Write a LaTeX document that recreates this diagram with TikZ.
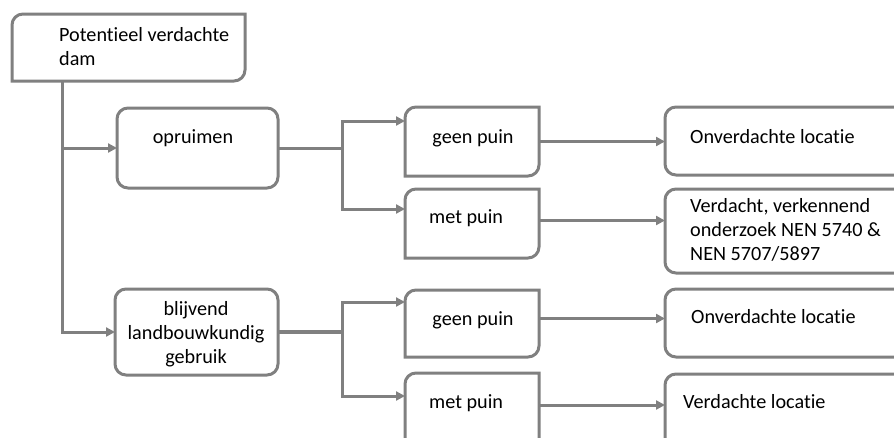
\documentclass[tikz,border=0pt]{standalone}
\usepackage{fontspec}
\setmainfont[Ligatures=NoCommon]{Carlito}
\usetikzlibrary{arrows.meta,calc}
\definecolor{lg}{HTML}{808080}
\tikzset{
  outline/.style={draw=lg, line width=3pt},
  ln/.style={draw=lg, line width=3pt},
  arr/.style={draw=lg, line width=3pt, -{Triangle[length=9pt,width=9pt]}},
  txt/.style={font=\fontsize{20.2}{23.7}\selectfont, inner sep=0pt, text=black},
  frame/.style={inner sep=0pt, outer sep=0pt, anchor=north west, shape=rectangle},
  roundbox/.style={frame, outline, rounded corners=11pt},
}
\newcommand\rdbox[1]{\draw[outline] (#1.south west) -- ($(#1.north west)+(0,-11)$) arc[start angle=180,end angle=90,radius=11] -- (#1.north east) -- ($(#1.south east)+(0,11)$) arc[start angle=0,end angle=-90,radius=11] -- cycle;}
\begin{document}
\begin{tikzpicture}[x=1pt,y=1pt]
\useasboundingbox (0,0) rectangle (894,-437);
\clip (0,0) rectangle (894,-437);
% boxes
\node[frame, minimum width=233pt, minimum height=67pt] (top) at (12,-14) {};
\node[roundbox, minimum width=161pt, minimum height=80pt] (opr) at (117,-108) {};
\node[frame, minimum width=134pt, minimum height=69pt] (gp1) at (405,-107) {};
\node[frame, minimum width=134pt, minimum height=69pt] (mp1) at (405,-189) {};
\node[roundbox, minimum width=300pt, minimum height=68pt] (on1) at (665,-107) {};
\node[roundbox, minimum width=300pt, minimum height=84pt] (vd) at (665,-189) {};
\node[roundbox, minimum width=163pt, minimum height=86pt] (bl) at (115,-289) {};
\node[frame, minimum width=134pt, minimum height=67pt] (gp2) at (405,-290) {};
\node[frame, minimum width=134pt, minimum height=80pt] (mp2) at (405,-373) {};
\node[roundbox, minimum width=300pt, minimum height=68pt] (on2) at (665,-289) {};
\node[roundbox, minimum width=300pt, minimum height=80pt] (vl) at (665,-374) {};
\rdbox{top}
\rdbox{gp1}
\rdbox{mp1}
\rdbox{gp2}
\rdbox{mp2}
% texts (base anchor of a multi-line node = last line)
\node[txt, anchor=base west, align=left] (t0) at (59,-65) {Potentieel verdachte\\dam};
\node[txt, anchor=base] (t1) at (193,-143) {opruimen};
\node[txt, anchor=base] (t2) at (473,-143) {geen puin};
\node[txt, anchor=base west] (t3) at (429,-223) {met puin};
\node[txt, anchor=base west] (t4) at (690,-143) {Onverdachte locatie};
\node[txt, anchor=base west, align=left] (t5) at (690,-260) {Verdacht, verkennend\\onderzoek NEN 5740 \&\\NEN 5707/5897};
\node[txt, anchor=base, align=center] (t6) at (196,-363) {blijvend\\landbouwkundig\\gebruik};
\node[txt, anchor=base] (t7) at (473,-325) {geen puin};
\node[txt, anchor=base west] (t8) at (429,-408) {met puin};
\node[txt, anchor=base west] (t9) at (691,-323) {Onverdachte locatie};
\node[txt, anchor=base west] (t10) at (683,-408) {Verdachte locatie};
% connectors
\coordinate (tk) at (62,0);
\draw[arr] (top.south -| tk) |- (opr.west);
\draw[arr] (top.south -| tk) |- (bl.west);
\coordinate (f1) at (342,-148);
\draw[ln] (opr.east) -- (f1);
\draw[arr] (f1) |- ([yshift=-14pt]gp1.north west);
\draw[arr] (f1) |- ([yshift=-20pt]mp1.north west);
\draw[arr] (gp1.east) -- (gp1.east -| on1.west);
\draw[arr] ([yshift=3pt]mp1.east) -- ([yshift=3pt]mp1.east -| vd.west);
\coordinate (f2) at (342,-332);
\draw[ln, line width=4.5pt] (bl.east) -- (f2);
\draw[arr] (f2) |- ([yshift=-12pt]gp2.north west);
\draw[arr] (f2) |- ([yshift=-23pt]mp2.north west);
\draw[arr] ([yshift=5pt]gp2.east) -- ([yshift=5pt]gp2.east -| on2.west);
\draw[arr] ([yshift=-32pt]mp2.north east) -- ([yshift=-32pt]mp2.north east -| vl.west);
\end{tikzpicture}
\end{document}
